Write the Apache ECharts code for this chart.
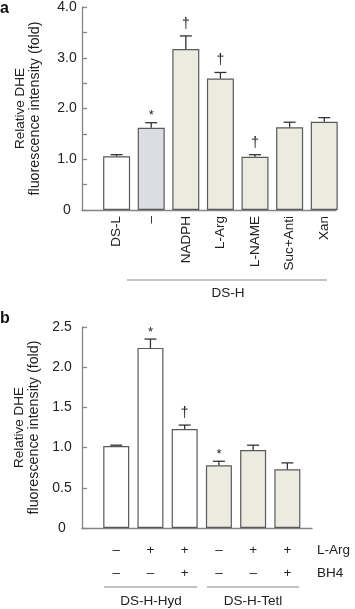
<!DOCTYPE html>
<html>
<head>
<meta charset="utf-8">
<script src="https://cdn.jsdelivr.net/npm/echarts@6/dist/echarts.min.js"></script>
<style>
  html, body { margin: 0; padding: 0; background: #fff; }
  #chart { width: 355px; height: 609px; }
</style>
</head>
<body>
<div id="chart"></div>
<script>
/*------------------------- 数据 -------------------------*/
// panel a
var catsA = ['DS-L', '\u2013', 'NADPH', 'L-Arg', 'L-NAME', 'Suc+Anti', 'Xan'];
var valsA = [1.06, 1.62, 3.17, 2.59, 1.05, 1.63, 1.74];
var errsA = [0.03, 0.10, 0.26, 0.12, 0.04, 0.10, 0.08];
var sigA = ['', '*', '\u2020', '\u2020', '\u2020', '', ''];
var colorsA = ['#ffffff', '#dcdde2', '#ecebdf', '#ecebdf', '#ecebdf', '#ecebdf', '#ecebdf'];
var ticksA = ['0', '1.0', '2.0', '3.0', '4.0'];
// panel b
var lArg = ['\u2013', '+', '+', '\u2013', '+', '+'];
var bh4 = ['\u2013', '\u2013', '+', '\u2013', '\u2013', '+'];
var valsB = [1.02, 2.24, 1.23, 0.78, 0.97, 0.73];
var errsB = [0.01, 0.11, 0.05, 0.05, 0.06, 0.08];
var sigB = ['', '*', '\u2020', '*', '', ''];
var colorsB = ['#ffffff', '#ffffff', '#ffffff', '#ecebdf', '#ecebdf', '#ecebdf'];
var ticksB = ['0', '0.5', '1.0', '1.5', '2.0', '2.5'];

var FONT = "'Liberation Sans', Arial, Helvetica, sans-serif";
var TXT = '#222';
var AXC = '#858585';

/*------------------------- 工具函数 -------------------------*/
function barData(vals, colors) {
    var out = [];
    for (var i = 0; i < vals.length; i++) {
        out.push({ value: [i + 1, vals[i]], itemStyle: { color: colors[i] } });
    }
    return out;
}
function errData(vals, errs) {
    var out = [];
    for (var i = 0; i < vals.length; i++) {
        out.push([i + 1, vals[i], errs[i]]);
    }
    return out;
}
// 误差线 + 显著性标记
function errRender(sig) {
    return function (params, api) {
        var x = api.value(0), v = api.value(1), e = api.value(2);
        var base = api.coord([x, v]);
        var top = api.coord([x, v + e]);
        var s = sig[params.dataIndex];
        var kids = [
            { type: 'line', shape: { x1: base[0], y1: base[1], x2: top[0], y2: top[1] },
              style: { stroke: '#333', lineWidth: 1.3 } },
            { type: 'line', shape: { x1: top[0] - 6, y1: top[1], x2: top[0] + 6, y2: top[1] },
              style: { stroke: '#333', lineWidth: 1.3 } }
        ];
        if (s) {
            kids.push({ type: 'text', x: top[0], y: top[1] - (s === '*' ? 7 : 12),
                style: { text: s, fill: TXT, font: (s === '*' ? '13px ' : '14px ') + FONT,
                         align: 'center', verticalAlign: 'middle' } });
        }
        return { type: 'group', children: kids };
    };
}
function yAxisOf(idx, max, ticks, margin) {
    return {
        type: 'value', gridIndex: idx, min: 0, max: max, interval: 0.5,
        name: '{l1|Relative DHE}\n{l2|fluorescence intensity (fold)}',
        nameLocation: 'middle', nameGap: 39,
        nameTextStyle: {
            color: TXT, fontFamily: FONT, fontSize: 13, lineHeight: 15,
            rich: {
                l1: { fontFamily: FONT, fontSize: 13.5, lineHeight: 15, color: TXT },
                l2: { fontFamily: FONT, fontSize: 14.3, lineHeight: 15, color: TXT }
            }
        },
        axisLine: { show: true, lineStyle: { color: AXC, width: 1.3 } },
        axisTick: { show: true, inside: true, length: 5, lineStyle: { color: AXC, width: 1.3 } },
        splitLine: { show: false },
        axisLabel: {
            color: TXT, fontFamily: FONT, fontSize: 14, align: 'center', margin: margin,
            formatter: function (v) {
                var k = Math.round(v * 2);
                if (idx === 0) return k % 2 === 0 ? (ticks[k / 2] || '') : '';
                return ticks[k] || '';
            }
        }
    };
}
function xAxisOf(idx, max, labels, offset, showLine) {
    return {
        type: 'value', gridIndex: idx, min: 0, max: max, interval: 1, position: 'bottom',
        offset: offset || 0,
        axisLine: { show: !!showLine, lineStyle: { color: AXC, width: 1.3 } },
        axisTick: { show: false },
        splitLine: { show: false },
        axisLabel: {
            show: !!labels, color: TXT, fontFamily: FONT, fontSize: 13.5,
            showMinLabel: false, showMaxLabel: false,
            rotate: idx === 0 ? 90 : 0, margin: idx === 0 ? 6 : 8,
            formatter: function (v) {
                return labels && Number.isInteger(v) ? (labels[v - 1] || '') : '';
            }
        }
    };
}

/*------------------------- echarts初始化 -------------------------*/
var myChart = echarts.init(document.getElementById('chart'), null, { renderer: 'canvas' });
var option = {
    animation: false,
    backgroundColor: '#fff',
    textStyle: { fontFamily: FONT },
    grid: [
        { left: 82, top: 7, width: 254, height: 203 },
        { left: 82, top: 327, width: 230, height: 201 }
    ],
    xAxis: [
        xAxisOf(0, 7.34, catsA, 0, true),
        xAxisOf(1, 6.72, null, 0, true),
        xAxisOf(1, 6.72, lArg, 7, false),
        xAxisOf(1, 6.72, bh4, 30, false)
    ],
    yAxis: [
        yAxisOf(0, 4, ticksA, 15),
        yAxisOf(1, 2.5, ticksB, 20)
    ],
    series: [
        { type: 'bar', xAxisIndex: 0, yAxisIndex: 0, barWidth: 27, data: barData(valsA, colorsA),
          itemStyle: { borderColor: '#5a5a5a', borderWidth: 1.2 } },
        { type: 'custom', xAxisIndex: 0, yAxisIndex: 0, data: errData(valsA, errsA),
          renderItem: errRender(sigA), z: 3 },
        { type: 'bar', xAxisIndex: 1, yAxisIndex: 1, barWidth: 26, data: barData(valsB, colorsB),
          itemStyle: { borderColor: '#5a5a5a', borderWidth: 1.2 } },
        { type: 'custom', xAxisIndex: 1, yAxisIndex: 1, data: errData(valsB, errsB),
          renderItem: errRender(sigB), z: 3 }
    ],
    graphic: [
        { type: 'text', left: 0, top: 1, style: { text: 'a', font: 'bold 16px ' + FONT, fill: '#111' } },
        { type: 'text', left: 0, top: 311, style: { text: 'b', font: 'bold 16px ' + FONT, fill: '#111' } },
        // DS-H 分组
        { type: 'line', shape: { x1: 127, y1: 280, x2: 327, y2: 280 }, style: { stroke: AXC, lineWidth: 1.2 } },
        { type: 'text', x: 228, y: 293, style: { text: 'DS-H', font: '13.5px ' + FONT, fill: TXT, align: 'center', verticalAlign: 'middle' } },
        // 行标题
        { type: 'text', x: 317, y: 550, style: { text: 'L-Arg', font: '13.5px ' + FONT, fill: TXT, align: 'left', verticalAlign: 'middle' } },
        { type: 'text', x: 317, y: 573, style: { text: 'BH4', font: '13.5px ' + FONT, fill: TXT, align: 'left', verticalAlign: 'middle' } },
        // panel b 分组
        { type: 'line', shape: { x1: 104, y1: 587, x2: 197, y2: 587 }, style: { stroke: AXC, lineWidth: 1.2 } },
        { type: 'line', shape: { x1: 207, y1: 587, x2: 299, y2: 587 }, style: { stroke: AXC, lineWidth: 1.2 } },
        { type: 'text', x: 151, y: 601, style: { text: 'DS-H-Hyd', font: '13.5px ' + FONT, fill: TXT, align: 'center', verticalAlign: 'middle' } },
        { type: 'text', x: 253, y: 601, style: { text: 'DS-H-Tetl', font: '13.5px ' + FONT, fill: TXT, align: 'center', verticalAlign: 'middle' } }
    ]
};
myChart.setOption(option);
</script>
</body>
</html>
